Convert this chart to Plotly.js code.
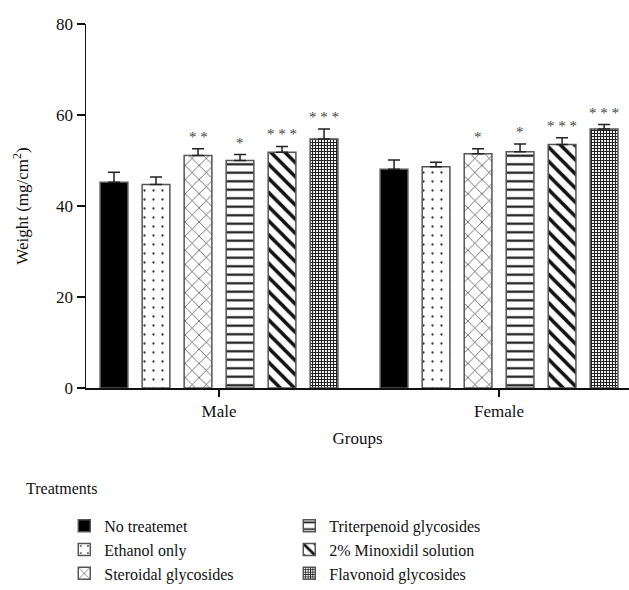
<!DOCTYPE html>
<html>
<head>
<meta charset="utf-8">
<script src="https://cdn.plot.ly/plotly-3.0.1.min.js"></script>
<style>html,body{margin:0;padding:0;background:#fff;}#chart{width:629px;height:590px;}</style>
</head>
<body>
<div id="chart"></div>
<script>
const groups = ["Male", "Female"];
const treatments = ["No treatemet", "Ethanol only", "Steroidal glycosides", "Triterpenoid glycosides", "2% Minoxidil solution", "Flavonoid glycosides"];
const noTreatment = [45.2, 48.1];
const ethanolOnly = [44.7, 48.6];
const steroidal = [51.1, 51.5];
const triterpenoid = [50.0, 51.9];
const minoxidil = [51.8, 53.5];
const flavonoid = [54.7, 56.9];
const noTreatmentErr = [2.2, 2.0];
const ethanolOnlyErr = [1.7, 1.0];
const steroidalErr = [1.5, 1.1];
const triterpenoidErr = [1.3, 1.7];
const minoxidilErr = [1.3, 1.5];
const flavonoidErr = [2.2, 1.0];
const maleStars = ["", "", "**", "*", "***", "***"];
const femaleStars = ["", "", "*", "*", "***", "***"];
const yTicks = [0, 20, 40, 60, 80];

const values = [noTreatment, ethanolOnly, steroidal, triterpenoid, minoxidil, flavonoid];
const errors = [noTreatmentErr, ethanolOnlyErr, steroidalErr, triterpenoidErr, minoxidilErr, flavonoidErr];
const stars = [maleStars, femaleStars];

const patterns = [
  {shape: "", bgcolor: "#000"},
  {shape: ".", fgcolor: "#333", bgcolor: "#fff", size: 9, solidity: 0.05},
  {shape: "x", fgcolor: "#222", bgcolor: "#fff", size: 10, solidity: 0.12},
  {shape: "-", fgcolor: "#111", bgcolor: "#fff", size: 8.5, solidity: 0.25},
  {shape: "\\", fgcolor: "#111", bgcolor: "#fff", size: 10, solidity: 0.35},
  {shape: "+", fgcolor: "#222", bgcolor: "#fff", size: 3, solidity: 0.6}
];
const ranks = [1, 3, 5, 2, 4, 6];
const FONT = "Liberation Serif";

const traces = treatments.map((name, i) => ({
  type: "bar",
  name: name,
  x: groups,
  y: values[i],
  legendrank: ranks[i],
  marker: {
    color: i === 0 ? "#000" : "#fff",
    pattern: patterns[i],
    line: {color: "#555", width: 1.5}
  },
  error_y: {
    type: "data", symmetric: false,
    array: errors[i], arrayminus: [0, 0],
    color: "#222", thickness: 1.5, width: 6
  }
}));

const bargap = 0.1;
const n = treatments.length;
const slot = (1 - bargap) / n;
const annotations = [];
groups.forEach((g, gi) => {
  treatments.forEach((t, i) => {
    const s = stars[gi][i];
    if (!s) return;
    annotations.push({
      x: gi + (i - (n - 1) / 2) * slot,
      y: values[i][gi] + errors[i][gi],
      xref: "x", yref: "y",
      text: s.split("").join(" "),
      showarrow: false, yanchor: "bottom", yshift: 2,
      font: {family: FONT, size: 15, color: "#444"}
    });
  });
});
annotations.push({
  text: "Treatments", xref: "paper", yref: "paper",
  x: -0.114, y: -0.247, xanchor: "left", yanchor: "top", showarrow: false,
  font: {family: FONT, size: 16, color: "#111"}
});

const layout = {
  width: 629, height: 590,
  margin: {l: 86, r: 0, t: 24, b: 202, autoexpand: false},
  paper_bgcolor: "#fff", plot_bgcolor: "#fff",
  barmode: "group", bargap: bargap, bargroupgap: 0.34,
  font: {family: FONT, size: 16, color: "#111"},
  xaxis: {
    type: "category", range: [-0.475, 1.464],
    showline: true, linecolor: "#111", linewidth: 1.5,
    ticks: "outside", ticklen: 7, tickwidth: 1.5, tickcolor: "#111",
    showgrid: false, zeroline: false,
    tickfont: {family: FONT, size: 17, color: "#111"},
    title: {text: "Groups", font: {family: FONT, size: 17, color: "#111"}, standoff: 12}
  },
  yaxis: {
    range: [0, 80], tickvals: yTicks,
    showline: true, linecolor: "#111", linewidth: 1.5,
    ticks: "outside", ticklen: 8, tickwidth: 1.5, tickcolor: "#111",
    showgrid: false, zeroline: false,
    tickfont: {family: FONT, size: 17, color: "#111"},
    title: {text: "Weight (mg/cm<sup>2</sup>)", font: {family: FONT, size: 17, color: "#111"}, standoff: 23}
  },
  showlegend: true,
  legend: {
    orientation: "h", x: -0.04, y: -0.332, xanchor: "left", yanchor: "top",
    entrywidth: 180, entrywidthmode: "pixels", traceorder: "normal",
    font: {family: FONT, size: 16, color: "#111"}, tracegroupgap: 0
  },
  annotations: annotations
};

Plotly.newPlot("chart", traces, layout, {displayModeBar: false, staticPlot: true});
</script>
</body>
</html>
